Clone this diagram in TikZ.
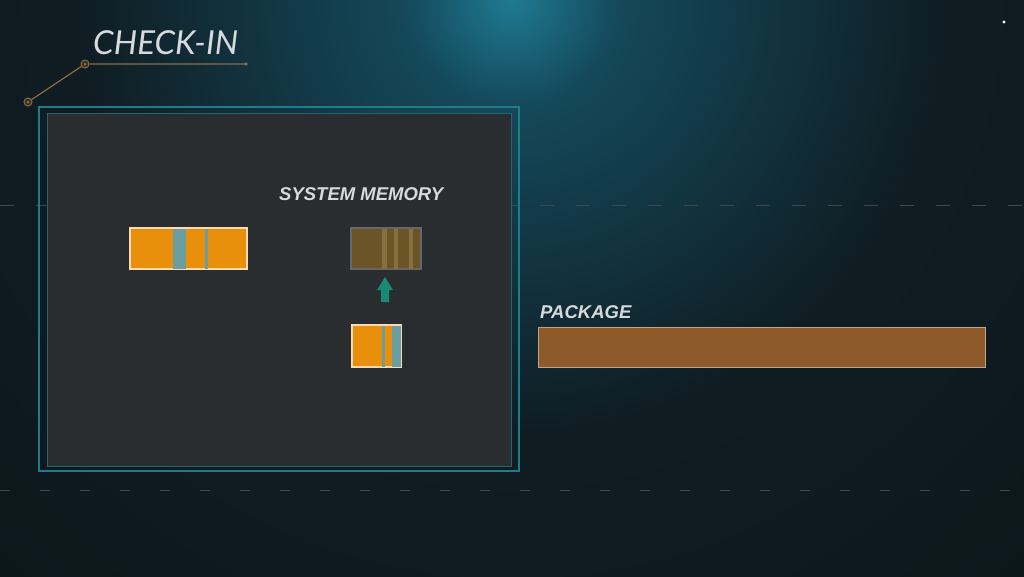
\documentclass[tikz,border=0pt]{standalone}
\usepackage{fontspec}
\setmainfont{Liberation Sans}
\newfontfamily\titlefont{Lato}
\definecolor{bg}{HTML}{0B1519}
\definecolor{bgl}{HTML}{0F1D23}
\definecolor{glowc}{HTML}{1F7A92}
\definecolor{glowm}{HTML}{14485A}
\definecolor{panel}{HTML}{2A2D30}
\definecolor{frame}{HTML}{1E7E88}
\definecolor{orng}{HTML}{E8900C}
\definecolor{teals}{HTML}{6A9EA0}
\definecolor{faded}{HTML}{6B5428}
\definecolor{fadedl}{HTML}{857040}
\definecolor{pkg}{HTML}{8E5A2A}
\definecolor{pkgb}{HTML}{BFA38A}
\definecolor{tan}{HTML}{8C6C48}
\definecolor{txt}{HTML}{D6DADC}
\definecolor{arr}{HTML}{178A76}
\pgfdeclareradialshading{glow}{\pgfpoint{0bp}{0bp}}{color(0bp)=(glowc); color(3bp)=(glowm); color(12bp)=(bgl); color(25bp)=(bg); color(50bp)=(bg)}
\tikzset{
  block/.style={draw=#1, line width=1.2pt, anchor=north west, inner sep=0pt},
  label/.style={font=\bfseries\itshape\fontsize{18.5}{20}\selectfont, text=txt, anchor=south west, inner sep=0pt},
  deco/.style={draw=tan, line width=1.2pt},
  ring/.style={circle, draw=tan, line width=1pt, minimum size=8pt, inner sep=0pt},
  streak/.style={draw=white!22!bg, line width=0.5pt},
}
\begin{document}
\begin{tikzpicture}[x=1pt,y=-1pt]
\useasboundingbox (0,0) rectangle (1024,576);
\fill[bg] (0,0) rectangle (1024,576);
\begin{scope}
  \clip (0,0) rectangle (1024,576);
  \shade[shading=glow] (512,0) circle (900);
\end{scope}
% faint streaks
\draw[streak, dash pattern=on 14pt off 22pt] (0,205) -- (1024,205);
\draw[streak, dash pattern=on 10pt off 30pt] (0,490) -- (1024,490);
% title decoration
\node[ring, fill=tan!30!bg] (r1) at (28,102) {};
\node[ring, fill=tan!30!bg] (r2) at (85,64) {};
\coordinate (e1) at (246,64);
\draw[deco] (r1) -- (r2) -- (e1);
\fill[tan] (e1) circle (1.8);
\fill[tan] (r1) circle (1.5);
\fill[tan] (r2) circle (1.5);
\node[font=\titlefont\itshape\fontsize{33}{35}\selectfont, text=txt, anchor=south west, inner sep=0pt] (title) at (93,55) {CHECK-IN};
% panel
\draw[frame, line width=1.3pt] (39,107) rectangle (519,471);
\node[block=frame!70!panel, fill=panel, line width=0.8pt, minimum width=464pt, minimum height=353pt] (panel) at (47,113) {};
% labels
\node[label] (sm) at (279,201) {SYSTEM MEMORY};
\node[label] (pk) at (540,319) {PACKAGE};
% block 1
\node[block=orange!30!white, fill=orng, minimum width=116pt, minimum height=40pt] (b1) at (130,228) {};
\fill[teals] ([xshift=43pt]b1.north west) rectangle ([xshift=56pt]b1.south west);
\fill[teals] ([xshift=75pt]b1.north west) rectangle ([xshift=78pt]b1.south west);
\draw[orange!30!white, line width=1.2pt] (b1.north west) rectangle (b1.south east);
% faded block
\node[block=gray!70!panel, fill=faded, minimum width=69pt, minimum height=40pt] (b2) at (351,228) {};
\fill[fadedl] ([xshift=31pt]b2.north west) rectangle ([xshift=36pt]b2.south west);
\fill[fadedl] ([xshift=43pt]b2.north west) rectangle ([xshift=47pt]b2.south west);
\fill[fadedl] ([xshift=58pt]b2.north west) rectangle ([xshift=62pt]b2.south west);
\draw[gray!70!panel, line width=1.2pt] (b2.north west) rectangle (b2.south east);
% block 3
\node[block=orange!30!white, fill=orng, minimum width=48pt, minimum height=41pt] (b3) at (352,325) {};
\fill[teals] ([xshift=30pt]b3.north west) rectangle ([xshift=33pt]b3.south west);
\fill[teals] ([xshift=40pt]b3.north west) rectangle (b3.south east);
\draw[orange!30!white, line width=1.2pt] (b3.north west) rectangle (b3.south east);
% arrow
\fill[arr] (381,302) -- (389,302) -- (389,290) -- (393,290) -- (385,277) -- (377,290) -- (381,290) -- cycle;
% package bar
\node[block=pkgb, fill=pkg, minimum width=447pt, minimum height=40pt] (bar) at (538,327) {};
% cursor
\fill[white] (1004,22) circle (1.6);
\end{tikzpicture}
\end{document}
